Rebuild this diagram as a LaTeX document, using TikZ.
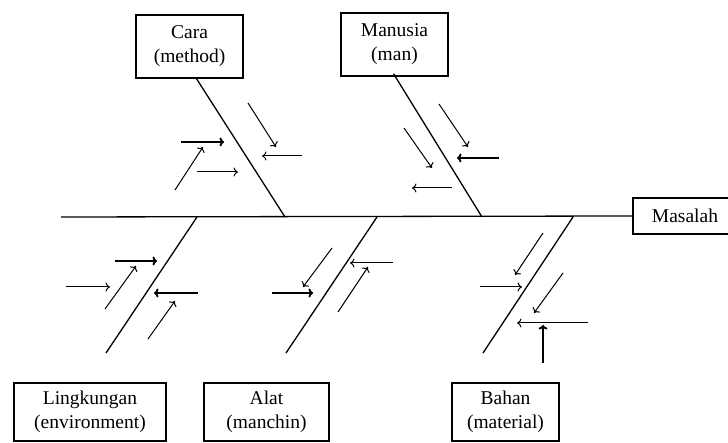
\documentclass[tikz,border=0pt]{standalone}
\usepackage{fontspec}
\setmainfont{Liberation Serif}
\usetikzlibrary{arrows.meta}
\begin{document}
\begin{tikzpicture}[x=1pt,y=-1pt,
  catbox/.style={draw,line width=1.4pt,align=center,inner sep=0pt,
    font=\fontsize{19.5}{24}\selectfont},
  bone/.style={line width=1.3pt},
  cause/.style={line width=1pt,-{To[length=4.5pt,width=9pt]}},
  bigcause/.style={line width=1.9pt,-{To[length=4.5pt,width=9pt]}}]
\useasboundingbox (0,0) rectangle (728,443);

% category boxes
\node[catbox,minimum width=107pt,minimum height=63pt] (cara) at (189.5,46.5) {Cara\\(method)};
\node[catbox,minimum width=107pt,minimum height=63pt] (manusia) at (394.5,44.5) {Manusia\\(man)};
\node[catbox,minimum width=152pt,minimum height=58pt] (env) at (90,412) {Lingkungan\\(environment)};
\node[catbox,minimum width=125pt,minimum height=58pt] (alat) at (266.5,412) {Alat\\(manchin)};
\node[catbox,minimum width=107pt,minimum height=58pt] (bahan) at (505.5,412) {Bahan\\(material)};
\node[catbox,minimum width=104pt,minimum height=36pt] (masalah) at (685,216) {Masalah};

% main spine
\coordinate (tail) at (61,217);
\draw[bone] (tail) -- (masalah.west);

% joints on the spine and free ends of the lower bones
\coordinate (j1) at (285,217);
\coordinate (j2) at (482,217);
\coordinate (j3) at (197,217);
\coordinate (j4) at (377,217);
\coordinate (j5) at (573,217);
\coordinate (e3) at (106,353);
\coordinate (e4) at (286,353);
\coordinate (e5) at (483,353);

% category bones
\draw[bone] ([xshift=7pt]cara.south) -- (j1);
\draw[bone] ([xshift=-1pt,yshift=3pt]manusia.south) -- (j2);
\draw[bone] (j3) -- (e3);
\draw[bone] (j4) -- (e4);
\draw[bone] (j5) -- (e5);

% causes: Cara
\draw[bigcause] (181,142) -- (224,142);
\draw[cause] (175,190) -- (203,147);
\draw[cause] (197,172) -- (238,172);
\draw[cause] (248,103) -- (276,147);
\draw[cause] (302,156) -- (262,156);

% causes: Manusia
\draw[cause] (439,104) -- (468,147);
\draw[bigcause] (499,158) -- (457,158);
\draw[cause] (404,128) -- (432,168);
\draw[cause] (452,188) -- (412,188);

% causes: Lingkungan
\draw[bigcause] (115,261) -- (157,261);
\draw[cause] (105,309) -- (136,266);
\draw[cause] (66,287) -- (110,287);
\draw[bigcause] (198,293) -- (154,293);
\draw[cause] (148,339) -- (175,301);

% causes: Alat
\draw[cause] (332,248) -- (303,287);
\draw[bigcause] (272,293) -- (313,293);
\draw[cause] (393,263) -- (350,263);
\draw[cause] (338,312) -- (368,267);

% causes: Bahan
\draw[cause] (543,233) -- (515,275);
\draw[cause] (480,287) -- (522,287);
\draw[cause] (563,273) -- (534,313);
\draw[cause] (588,323) -- (517,323);
\draw[bigcause] (543,363) -- (543,325);
\end{tikzpicture}
\end{document}
